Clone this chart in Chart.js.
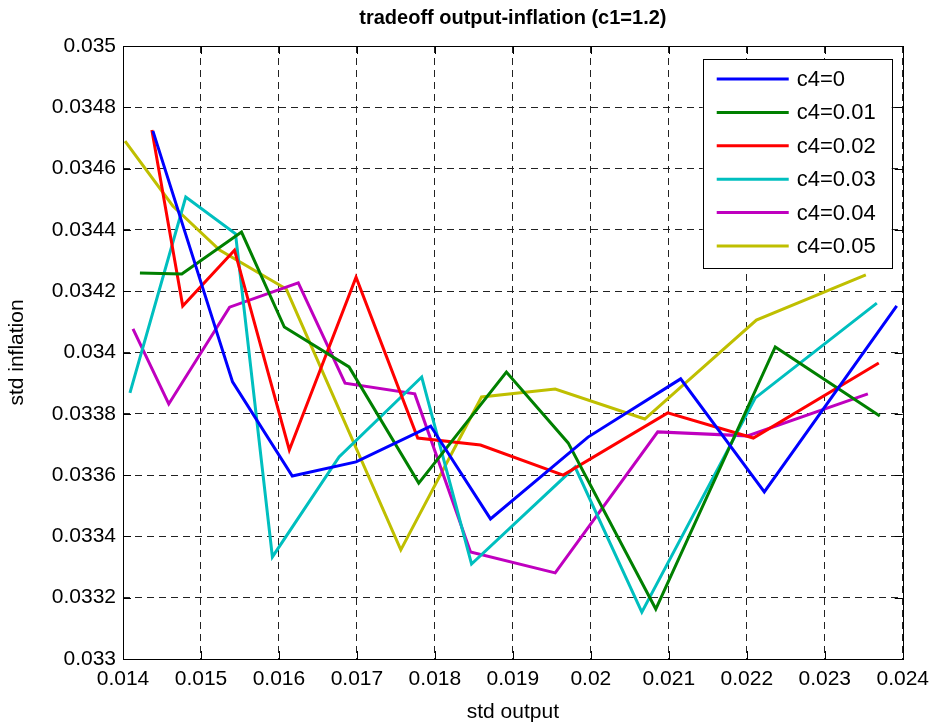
<!DOCTYPE html>
<html>
<head>
<meta charset="utf-8">
<title>tradeoff output-inflation (c1=1.2)</title>
<script src="https://cdn.jsdelivr.net/npm/chart.js@4.4.1/dist/chart.umd.min.js"></script>
<style>
    html, body { margin: 0; padding: 0; background: #fff; }
    #wrap { width: 937px; height: 725px; }
</style>
</head>
<body>
<div id="wrap"><canvas id="chart" width="937" height="725"></canvas></div>
<script>
// Series names + colours (MATLAB default order)
const seriesLabels = ['c4=0', 'c4=0.01', 'c4=0.02', 'c4=0.03', 'c4=0.04', 'c4=0.05'];
const seriesColors = ['#0000ff', '#008000', '#ff0000', '#00bfbf', '#bf00bf', '#bfbf00'];

// std output (x) / std inflation (y)
const xC40 = [0.014383, 0.015405, 0.016171, 0.016989, 0.017946, 0.018713, 0.019964, 0.021152, 0.022225, 0.023923];
const yC40 = [0.034723, 0.033904, 0.033597, 0.033643, 0.033760, 0.033457, 0.033724, 0.033914, 0.033545, 0.034152];

const xC401 = [0.014217, 0.014754, 0.015520, 0.016069, 0.016899, 0.017793, 0.018917, 0.019709, 0.020833, 0.022365, 0.023706];
const yC401 = [0.034259, 0.034256, 0.034393, 0.034083, 0.033953, 0.033574, 0.033936, 0.033705, 0.033163, 0.034018, 0.033793];

const xC402 = [0.014370, 0.014766, 0.015430, 0.016133, 0.016989, 0.017780, 0.018585, 0.019645, 0.020986, 0.022084, 0.023693];
const yC402 = [0.034726, 0.034152, 0.034334, 0.033682, 0.034246, 0.033721, 0.033698, 0.033600, 0.033803, 0.033721, 0.033966];

const xC403 = [0.014089, 0.014805, 0.015443, 0.015916, 0.016771, 0.017831, 0.018470, 0.019798, 0.020654, 0.022110, 0.023668];
const yC403 = [0.033868, 0.034507, 0.034387, 0.033333, 0.033659, 0.033920, 0.033310, 0.033626, 0.033153, 0.033852, 0.034161];

const xC404 = [0.014128, 0.014587, 0.015367, 0.016248, 0.016848, 0.017742, 0.018457, 0.019543, 0.020858, 0.022008, 0.023553];
const yC404 = [0.034077, 0.033832, 0.034148, 0.034227, 0.033900, 0.033865, 0.033349, 0.033281, 0.033741, 0.033728, 0.033865];

const xC405 = [0.014026, 0.014639, 0.015239, 0.016094, 0.017563, 0.018598, 0.019543, 0.020692, 0.022123, 0.023527];
const yC405 = [0.034690, 0.034478, 0.034334, 0.034207, 0.033356, 0.033855, 0.033881, 0.033783, 0.034106, 0.034253];

const seriesX = [xC40, xC401, xC402, xC403, xC404, xC405];
const seriesY = [yC40, yC401, yC402, yC403, yC404, yC405];

// Axis ticks
const xTicks = [0.014, 0.015, 0.016, 0.017, 0.018, 0.019, 0.020, 0.021, 0.022, 0.023, 0.024];
const yTicks = [0.0330, 0.0332, 0.0334, 0.0336, 0.0338, 0.0340, 0.0342, 0.0344, 0.0346, 0.0348, 0.0350];

const FONT = '"Liberation Sans", Arial, Helvetica, sans-serif';
Chart.defaults.font.family = FONT;
Chart.defaults.color = '#000';

const fmt = v => parseFloat(v.toFixed(4)).toString();

// Box, inward ticks and legend drawn like MATLAB
const matlabFrame = {
    id: 'matlabFrame',
    afterDraw(chart) {
        const ctx = chart.ctx;
        const a = chart.chartArea;
        const sx = chart.scales.x, sy = chart.scales.y;
        const tick = 8;
        ctx.save();
        ctx.setLineDash([]);
        ctx.strokeStyle = '#000';
        ctx.lineWidth = 1;
        ctx.beginPath();
        xTicks.forEach(v => {
            const px = Math.round(sx.getPixelForValue(v)) + 0.5;
            ctx.moveTo(px, a.bottom); ctx.lineTo(px, a.bottom - tick);
            ctx.moveTo(px, a.top); ctx.lineTo(px, a.top + tick);
        });
        yTicks.forEach(v => {
            const py = Math.round(sy.getPixelForValue(v)) + 0.5;
            ctx.moveTo(a.left, py); ctx.lineTo(a.left + tick, py);
            ctx.moveTo(a.right, py); ctx.lineTo(a.right - tick, py);
        });
        ctx.stroke();
        ctx.strokeRect(Math.round(a.left) + 0.5, Math.round(a.top) + 0.5,
            Math.round(a.right - a.left), Math.round(a.bottom - a.top));

        // legend (top right, inside axes)
        const lx = a.right - 200, ly = a.top + 13, lw = 189, lh = 209;
        ctx.fillStyle = '#fff';
        ctx.fillRect(lx, ly, lw, lh);
        ctx.strokeRect(Math.round(lx) + 0.5, Math.round(ly) + 0.5, lw, lh);
        ctx.font = '22px ' + FONT;
        ctx.textBaseline = 'middle';
        ctx.textAlign = 'left';
        chart.data.datasets.forEach((ds, i) => {
            const y = ly + 20 + i * 33.4;
            ctx.strokeStyle = ds.borderColor;
            ctx.lineWidth = 3;
            ctx.beginPath();
            ctx.moveTo(lx + 14, y); ctx.lineTo(lx + 86, y);
            ctx.stroke();
            ctx.fillStyle = '#000';
            ctx.fillText(ds.label, lx + 94, y + 1);
        });
        ctx.restore();
    }
};

const datasets = seriesLabels.map((label, i) => ({
    label: label,
    data: seriesX[i].map((x, j) => ({ x: x, y: seriesY[i][j] })),
    borderColor: seriesColors[i],
    backgroundColor: seriesColors[i],
    borderWidth: 3,
    showLine: true,
    pointRadius: 0,
    tension: 0,
    fill: false
}));

new Chart(document.getElementById('chart'), {
    type: 'scatter',
    data: { datasets: datasets },
    options: {
        responsive: false,
        animation: false,
        events: [],
        layout: { padding: { left: 0, right: 31, top: 0, bottom: 0 } },
        plugins: {
            legend: { display: false },
            tooltip: { enabled: false },
            title: {
                display: true,
                text: 'tradeoff output-inflation (c1=1.2)',
                fullSize: false,
                font: { size: 20, weight: 'bold', lineHeight: 1.2 },
                color: '#000',
                padding: { top: 6, bottom: 16 }
            }
        },
        scales: {
            x: {
                type: 'linear',
                min: 0.014,
                max: 0.024,
                afterBuildTicks: s => { s.ticks = xTicks.map(v => ({ value: v })); },
                afterFit: s => { s.height = 66; },
                ticks: { callback: fmt, font: { size: 21 }, color: '#000', padding: 8, maxRotation: 0, autoSkip: false },
                grid: { color: '#222', lineWidth: 1, drawTicks: false },
                border: { display: false, dash: [7, 5] },
                title: { display: true, text: 'std output', font: { size: 21, lineHeight: 1.2 }, color: '#000', padding: { top: 0, bottom: 0 } }
            },
            y: {
                type: 'linear',
                min: 0.033,
                max: 0.035,
                afterBuildTicks: s => { s.ticks = yTicks.map(v => ({ value: v })); },
                afterFit: s => { s.width = 123; },
                ticks: { callback: fmt, font: { size: 21 }, color: '#000', padding: 7, autoSkip: false },
                grid: { color: '#222', lineWidth: 1, drawTicks: false },
                border: { display: false, dash: [7, 5] },
                title: { display: true, text: 'std inflation', font: { size: 21, lineHeight: 1.2 }, color: '#000', padding: { top: 5, bottom: 0 } }
            }
        }
    },
    plugins: [matlabFrame]
});
</script>
</body>
</html>
